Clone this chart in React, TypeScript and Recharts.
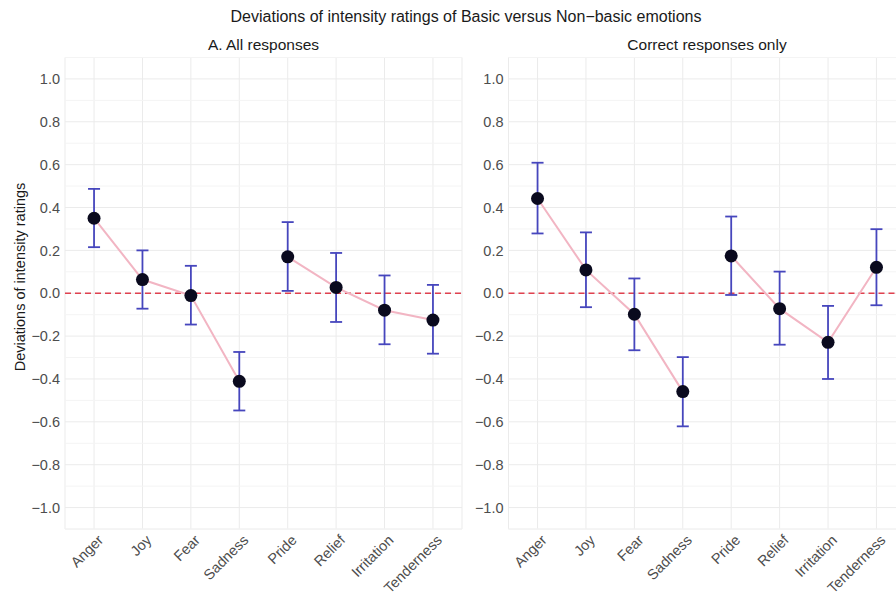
import {
  ComposedChart,
  CartesianGrid,
  XAxis,
  YAxis,
  Line,
  ErrorBar,
  ReferenceLine,
} from "recharts";

const emotions = ["Anger", "Joy", "Fear", "Sadness", "Pride", "Relief", "Irritation", "Tenderness"];
const basicCount = 4;

const allMean = [0.35, 0.064, -0.011, -0.411, 0.17, 0.027, -0.079, -0.125];
const allLow = [0.215, -0.072, -0.146, -0.547, 0.011, -0.134, -0.238, -0.282];
const allHigh = [0.487, 0.2, 0.128, -0.274, 0.332, 0.188, 0.083, 0.039];

const corMean = [0.442, 0.109, -0.098, -0.459, 0.174, -0.072, -0.229, 0.121];
const corLow = [0.279, -0.065, -0.266, -0.621, -0.008, -0.24, -0.4, -0.056];
const corHigh = [0.609, 0.284, 0.069, -0.298, 0.358, 0.101, -0.059, 0.299];

const yTicks = [-1, -0.8, -0.6, -0.4, -0.2, 0, 0.2, 0.4, 0.6, 0.8, 1];
const yMinor = [-1.1, -0.9, -0.7, -0.5, -0.3, -0.1, 0.1, 0.3, 0.5, 0.7, 0.9, 1.1];

const FONT = "'Liberation Sans', Arial, sans-serif";

const buildRows = (mean: number[], low: number[], high: number[]) =>
  emotions.map((name, i) => ({
    idx: i + 1,
    name,
    mean: mean[i],
    basic: i < basicCount ? mean[i] : null,
    nonbasic: i >= basicCount ? mean[i] : null,
    err: [mean[i] - low[i], high[i] - mean[i]],
  }));

const XTick = (props: any) => {
  const { x, y, payload } = props;
  const ax = x + 10;
  const ay = y + 10;
  return (
    <text
      x={ax}
      y={ay}
      transform={`rotate(-45, ${ax}, ${ay})`}
      textAnchor="end"
      fill="#4d4d4d"
      fontSize={14.5}
      fontFamily={FONT}
    >
      {emotions[payload.value - 1]}
    </text>
  );
};

const fmt = (v: number) => {
  const s = Math.abs(v).toFixed(1);
  return v < -0.0001 ? "\u2212" + s : s;
};

const Panel = ({ rows, left, yWidth }: { rows: any[]; left: number; yWidth: number }) => (
  <div style={{ position: "absolute", left, top: 0 }}>
    <ComposedChart
      width={470}
      height={596}
      data={rows}
      margin={{ top: 57.5, right: 470 - yWidth - 397, bottom: 0, left: 0 }}
    >
      <CartesianGrid stroke="#ebebeb" strokeWidth={1} />
      {yMinor.map((v) => (
        <ReferenceLine key={v} y={v} stroke="#f4f4f4" strokeWidth={1} />
      ))}
      <XAxis
        type="number"
        dataKey="idx"
        domain={[0.4, 8.6]}
        ticks={[1, 2, 3, 4, 5, 6, 7, 8]}
        interval={0}
        height={67}
        axisLine={false}
        tickLine={false}
        tickSize={0}
        tick={<XTick />}
      />
      <YAxis
        type="number"
        domain={[-1.1, 1.1]}
        ticks={yTicks}
        interval={0}
        width={yWidth}
        axisLine={false}
        tickLine={false}
        tickSize={0}
        tickMargin={5}
        tickFormatter={fmt}
        tick={{ fill: "#4d4d4d", fontSize: 14.5, fontFamily: FONT }}
      />
      <ReferenceLine y={0} stroke="#e0414f" strokeWidth={1.3} strokeDasharray="6 4" />
      <Line
        dataKey="basic"
        stroke="#f2b5c3"
        strokeWidth={2}
        dot={false}
        connectNulls={false}
        isAnimationActive={false}
      />
      <Line
        dataKey="nonbasic"
        stroke="#f2b5c3"
        strokeWidth={2}
        dot={false}
        connectNulls={false}
        isAnimationActive={false}
      />
      <Line
        dataKey="mean"
        stroke="none"
        dot={{ r: 6.5, fill: "#0a0a1e", stroke: "#0a0a1e", strokeWidth: 0 }}
        activeDot={false}
        isAnimationActive={false}
      >
        <ErrorBar dataKey="err" direction="y" width={6} stroke="#4646bd" strokeWidth={1.8} />
      </Line>
    </ComposedChart>
  </div>
);

export default function App() {
  const allRows = buildRows(allMean, allLow, allHigh);
  const corRows = buildRows(corMean, corLow, corHigh);
  return (
    <div
      style={{
        position: "absolute",
        left: 0,
        top: 0,
        width: 896,
        height: 596,
        overflow: "hidden",
        background: "#ffffff",
        fontFamily: FONT,
      }}
    >
      <Panel rows={allRows} left={0} yWidth={65} />
      <Panel rows={corRows} left={444} yWidth={64.5} />
      <svg
        width={896}
        height={596}
        style={{ position: "absolute", left: 0, top: 0, pointerEvents: "none" }}
      >
        <text x={466} y={22} textAnchor="middle" fontSize={16} fill="#1a1a1a" fontFamily={FONT}>
          Deviations of intensity ratings of Basic versus Non{"\u2212"}basic emotions
        </text>
        <text x={263.5} y={50} textAnchor="middle" fontSize={15.5} fill="#1a1a1a" fontFamily={FONT}>
          A. All responses
        </text>
        <text x={707} y={50} textAnchor="middle" fontSize={15.5} fill="#1a1a1a" fontFamily={FONT}>
          Correct responses only
        </text>
        <text
          x={25}
          y={277}
          transform="rotate(-90, 25, 277)"
          textAnchor="middle"
          fontSize={14.5}
          fill="#1a1a1a"
          fontFamily={FONT}
        >
          Deviations of intensity ratings
        </text>
      </svg>
    </div>
  );
}
